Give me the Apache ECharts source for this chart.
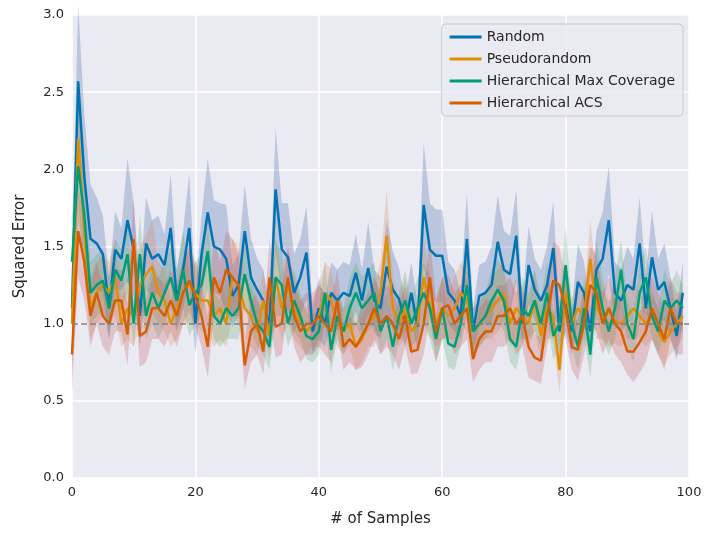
<!DOCTYPE html>
<html><head><meta charset="utf-8">
<script src="https://cdn.jsdelivr.net/npm/echarts@6/dist/echarts.min.js"></script>
<style>body{margin:0}#c{width:715px;height:539px}</style></head>
<body><div id="c"></div>
<script>
const samples = Array.from({length:100},(_, i)=>i);
const seriesNames = ['Random','Pseudorandom','Hierarchical Max Coverage','Hierarchical ACS'];
const randomMean = [1.1,2.57,1.95,1.55,1.52,1.45,1.1,1.48,1.42,1.67,1.48,1.05,1.52,1.42,1.45,1.38,1.62,1.15,1.35,1.62,1.0,1.45,1.72,1.5,1.48,1.42,1.18,1.25,1.6,1.3,1.22,1.15,0.98,1.87,1.48,1.43,1.2,1.3,1.46,0.95,1.1,1.0,1.2,1.15,1.2,1.18,1.33,1.15,1.36,1.15,1.1,1.37,1.22,1.16,1.0,1.2,0.98,1.77,1.48,1.44,1.44,1.2,1.15,1.05,1.55,0.95,1.18,1.2,1.25,1.53,1.35,1.32,1.57,1.0,1.38,1.22,1.15,1.25,1.49,0.95,1.15,0.95,1.27,1.2,0.95,1.35,1.42,1.67,1.2,1.15,1.25,1.22,1.52,1.1,1.43,1.22,1.27,1.1,0.92,1.2];
const pseudoMean = [1.0,2.2,1.6,1.1,1.2,1.25,1.2,1.3,1.0,1.1,1.05,1.25,1.32,1.37,1.2,1.15,1.0,1.1,1.2,1.25,1.2,1.15,1.15,1.05,1.1,1.0,1.3,1.25,1.1,1.05,0.95,1.15,0.92,1.3,1.1,1.25,1.1,1.0,0.95,1.0,1.05,1.2,1.15,1.0,0.95,1.0,0.85,0.9,1.0,1.05,1.2,1.57,1.1,1.0,1.1,0.95,1.0,1.3,1.12,1.0,1.1,1.05,1.1,1.2,1.15,0.95,1.0,1.05,1.1,1.15,1.2,1.0,1.1,1.05,1.0,1.15,0.92,1.1,1.05,0.7,1.2,1.0,1.1,1.05,1.42,1.1,1.05,1.0,1.02,1.0,1.05,1.1,1.05,1.0,1.05,0.95,0.88,0.95,1.0,1.05];
const maxCovMean = [1.4,2.02,1.7,1.2,1.25,1.28,1.1,1.35,1.28,1.45,1.0,1.45,1.05,1.2,1.1,1.2,1.3,1.15,1.35,1.12,1.2,1.25,1.47,1.05,1.0,1.1,1.05,1.1,1.32,1.15,1.0,0.95,0.85,1.3,1.25,1.0,1.15,1.05,0.92,0.9,0.95,1.2,0.83,1.05,0.95,1.1,1.2,1.1,1.15,1.2,0.95,1.05,0.85,1.05,1.15,1.0,1.1,1.2,1.1,0.9,1.1,0.87,0.85,1.0,1.25,0.95,1.0,1.05,1.15,1.22,1.15,0.9,0.85,1.1,1.05,1.15,1.0,1.2,0.92,1.0,1.38,1.0,0.85,1.1,0.8,1.3,1.1,0.95,1.1,1.35,1.0,0.9,1.2,1.3,1.05,0.95,1.15,1.1,1.15,1.1];
const acsMean = [0.8,1.6,1.4,1.05,1.2,1.05,1.0,1.15,1.15,0.93,1.55,0.92,0.95,1.1,1.1,1.05,1.15,1.05,1.2,1.28,1.18,1.05,0.85,1.3,1.2,1.35,1.3,1.25,0.73,0.95,1.0,0.82,1.3,0.98,1.0,1.3,1.05,0.95,1.0,1.0,1.05,1.0,0.95,1.15,0.85,0.9,0.85,0.92,1.0,1.1,1.0,1.05,1.0,0.9,1.05,0.82,0.83,1.0,1.3,0.95,1.1,1.12,1.0,1.05,1.1,0.77,0.9,0.95,0.95,1.05,1.05,1.1,1.0,1.05,0.85,0.78,0.76,1.05,1.28,1.25,1.1,0.85,0.83,1.0,1.25,1.2,1.0,1.1,1.0,0.95,0.82,0.82,0.88,0.95,1.1,1.0,0.9,1.1,1.0,1.0];
const randomSpread = [0.4,0.5,0.4,0.35,0.3,0.25,0.2,0.25,0.2,0.4,0.3,0.2,0.3,0.25,0.25,0.2,0.35,0.2,0.25,0.35,0.2,0.25,0.35,0.3,0.3,0.35,0.2,0.2,0.3,0.25,0.2,0.2,0.15,0.4,0.3,0.35,0.25,0.25,0.3,0.15,0.2,0.15,0.2,0.2,0.2,0.2,0.25,0.2,0.3,0.2,0.2,0.3,0.25,0.2,0.15,0.2,0.15,0.4,0.3,0.3,0.3,0.2,0.2,0.15,0.3,0.15,0.2,0.2,0.25,0.3,0.25,0.25,0.3,0.15,0.25,0.2,0.2,0.25,0.3,0.15,0.2,0.15,0.25,0.2,0.15,0.25,0.3,0.35,0.2,0.2,0.25,0.2,0.3,0.2,0.3,0.2,0.25,0.2,0.15,0.2];
const pseudoSpread = [0.3,0.4,0.3,0.2,0.2,0.2,0.2,0.25,0.15,0.2,0.2,0.25,0.25,0.3,0.2,0.2,0.15,0.2,0.2,0.25,0.2,0.2,0.2,0.2,0.2,0.15,0.25,0.25,0.2,0.2,0.15,0.2,0.15,0.25,0.2,0.25,0.2,0.15,0.15,0.15,0.2,0.2,0.2,0.15,0.15,0.15,0.15,0.15,0.15,0.2,0.2,0.3,0.2,0.15,0.2,0.15,0.15,0.25,0.2,0.15,0.2,0.15,0.2,0.2,0.2,0.15,0.15,0.15,0.2,0.2,0.2,0.15,0.2,0.15,0.15,0.2,0.15,0.2,0.15,0.15,0.2,0.15,0.2,0.15,0.25,0.2,0.15,0.15,0.15,0.15,0.15,0.2,0.15,0.15,0.15,0.15,0.15,0.15,0.15,0.15];
const maxCovSpread = [0.3,0.35,0.3,0.2,0.2,0.2,0.2,0.2,0.2,0.25,0.15,0.25,0.15,0.2,0.2,0.2,0.2,0.2,0.25,0.2,0.2,0.2,0.25,0.15,0.15,0.2,0.15,0.2,0.2,0.2,0.15,0.15,0.15,0.25,0.2,0.15,0.2,0.15,0.15,0.15,0.15,0.2,0.15,0.15,0.15,0.2,0.2,0.2,0.2,0.2,0.15,0.15,0.15,0.15,0.2,0.15,0.2,0.2,0.2,0.15,0.2,0.15,0.15,0.15,0.2,0.15,0.15,0.15,0.2,0.2,0.2,0.15,0.15,0.2,0.15,0.2,0.15,0.2,0.15,0.15,0.25,0.15,0.15,0.2,0.15,0.25,0.2,0.15,0.2,0.2,0.15,0.15,0.2,0.2,0.15,0.15,0.2,0.15,0.2,0.15];
const acsSpread = [0.25,0.3,0.25,0.2,0.2,0.2,0.2,0.2,0.2,0.2,0.25,0.2,0.2,0.2,0.2,0.2,0.2,0.2,0.2,0.2,0.2,0.2,0.2,0.25,0.2,0.25,0.25,0.2,0.15,0.2,0.2,0.15,0.25,0.2,0.2,0.2,0.2,0.2,0.2,0.2,0.2,0.2,0.2,0.2,0.15,0.15,0.15,0.2,0.2,0.2,0.2,0.2,0.2,0.2,0.2,0.15,0.15,0.2,0.25,0.2,0.2,0.2,0.2,0.2,0.2,0.15,0.2,0.2,0.2,0.2,0.2,0.2,0.2,0.2,0.2,0.15,0.15,0.2,0.25,0.25,0.2,0.15,0.2,0.2,0.25,0.25,0.2,0.2,0.2,0.2,0.15,0.2,0.2,0.2,0.2,0.2,0.2,0.2,0.2,0.2];
const yTicks = [0,0.5,1.0,1.5,2.0,2.5,3.0];

const lineColors = ['#0173b2','#de8f05','#029e73','#d55e00'];
const bandColors = ['rgba(76,114,176,0.3)','rgba(221,132,82,0.25)','rgba(85,168,104,0.25)','rgba(196,78,82,0.25)'];
const means = [randomMean,pseudoMean,maxCovMean,acsMean];
const spreads = [randomSpread,pseudoSpread,maxCovSpread,acsSpread];

const series = [];
means.forEach((m,k)=>{
  const s = spreads[k];
  const upper = samples.map(i=>[i,m[i]+s[i]]);
  const lower = samples.map(i=>[i,m[i]-s[i]]);
  series.push({type:'custom',silent:true,z:1,data:[0],
    renderItem:(params,api)=>{
      const pts = upper.map(p=>api.coord(p)).concat(lower.slice().reverse().map(p=>api.coord(p)));
      return {type:'polygon',shape:{points:pts},style:{fill:bandColors[k]}};
    }});
});
means.forEach((m,k)=>{
  series.push({name:seriesNames[k],type:'line',data:samples.map(i=>[i,m[i]]),symbol:'none',lineStyle:{width:2.5,color:lineColors[k]},itemStyle:{color:lineColors[k]},z:3,
    markLine:k===0?{silent:true,symbol:'none',label:{show:false},lineStyle:{type:'dashed',color:'#808080',width:1.5},data:[{yAxis:1}]}:undefined});
});

const chart = echarts.init(document.getElementById('c'));
chart.setOption({
  animation:false,
  backgroundColor:'#ffffff',
  grid:{left:72,right:26,top:15,bottom:61,backgroundColor:'#eaeaf2',show:true,borderWidth:0},
  legend:{data:seriesNames,right:32,top:24,orient:'vertical',itemWidth:32,itemHeight:3,itemGap:8,
    backgroundColor:'rgba(234,234,242,0.8)',borderColor:'#cccccc',borderWidth:1,borderRadius:4,padding:[6,8],
    textStyle:{fontSize:14,color:'#262626',fontFamily:'DejaVu Sans'},icon:'rect'},
  xAxis:{type:'value',min:0,max:100,interval:20,name:'# of Samples',nameLocation:'middle',nameGap:34,
    nameTextStyle:{fontSize:15,color:'#262626',fontFamily:'DejaVu Sans'},
    axisLine:{show:false},axisTick:{show:false},axisLabel:{fontSize:13,color:'#262626',fontFamily:'DejaVu Sans'},
    splitLine:{lineStyle:{color:'#ffffff',width:1.5}}},
  yAxis:{type:'value',min:0,max:3,interval:0.5,name:'Squared Error',nameLocation:'middle',nameGap:44,
    nameTextStyle:{fontSize:15,color:'#262626',fontFamily:'DejaVu Sans'},
    axisLine:{show:false},axisTick:{show:false},
    axisLabel:{fontSize:13,color:'#262626',fontFamily:'DejaVu Sans',formatter:v=>yTicks.includes(v)?v.toFixed(1):''},
    splitLine:{lineStyle:{color:'#ffffff',width:1.5}}},
  series
});
</script></body></html>
